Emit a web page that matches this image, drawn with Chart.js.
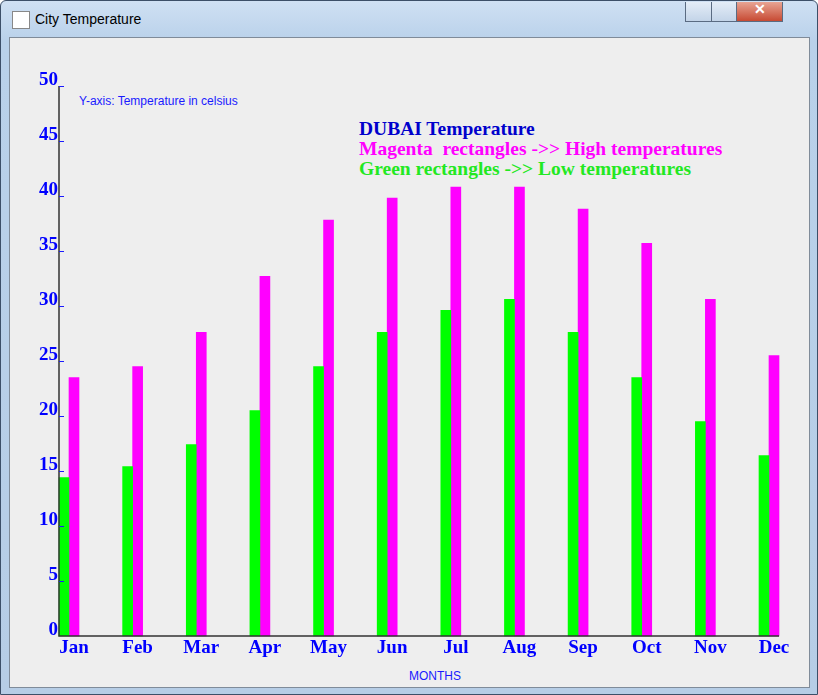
<!DOCTYPE html>
<html><head><meta charset="utf-8">
<script src="https://cdn.jsdelivr.net/npm/chart.js@4"></script>
<style>
html,body{margin:0;padding:0;width:818px;height:695px;overflow:hidden;background:#fff;font-family:"DejaVu Sans",sans-serif}
#win{position:absolute;left:0;top:0;width:816px;height:693px;border:1px solid #3c4f68;background:linear-gradient(#cfe0f3,#b9d1ea 40px,#b6cde6);border-radius:6px 6px 0 0}
#title{position:absolute;left:34px;top:10px;font:14px "Liberation Sans",sans-serif;color:#000}
#icon{position:absolute;left:11px;top:10px;width:16px;height:16px;background:#fff;border:1px solid #888}
#btns{position:absolute;left:684px;top:1px;height:20px;width:126px}
.b{position:absolute;top:0;height:19px;border:1px solid #5a6b82;border-top:none;background:linear-gradient(#e4edf7,#c3d4e8)}
#client{position:absolute;left:9px;top:37px;width:799px;height:649px;background:#eeeeee;border:1px solid #7f8b99}
.t{position:absolute;white-space:nowrap}
canvas{position:absolute;left:0;top:0}
</style></head><body>
<div id="win">
<div id="icon"></div><div id="title">City Temperature</div>
<div id="btns"><div class="b" style="left:0;width:26px"></div><div class="b" style="left:26px;width:25px"></div><div class="b" style="left:51px;width:45px;background:linear-gradient(#e8a493,#c74a33)"><span style="position:absolute;left:17px;top:-1px;color:#fff;font:bold 14px sans-serif">✕</span></div></div>
</div>
<div id="client"></div>
<div class="t" style="left:79px;top:94px;font:12px 'Liberation Sans',sans-serif;color:#1a1aff">Y-axis: Temperature in celsius</div>
<div class="t" style="left:409px;top:669px;font:12px 'Liberation Sans',sans-serif;color:#1a1aff">MONTHS</div>
<div class="t" style="left:359px;top:118px;font:bold 19.5px 'Liberation Serif',serif;color:#0000cc">DUBAI Temperature</div>
<div class="t" style="left:359px;top:138px;font:bold 19.5px 'Liberation Serif',serif;color:#ff00ff">Magenta&nbsp; rectangles -&gt;&gt; High temperatures</div>
<div class="t" style="left:359px;top:158px;font:bold 19.5px 'Liberation Serif',serif;color:#22e822">Green rectangles -&gt;&gt; Low temperatures</div>
<canvas id="c" width="818" height="695"></canvas>
<script>
const months=["Jan","Feb","Mar","Apr","May","Jun","Jul","Aug","Sep","Oct","Nov","Dec"];
const lowTemps=[14.4,15.4,17.4,20.5,24.5,27.6,29.6,30.6,27.6,23.5,19.5,16.4];
const highTemps=[23.5,24.5,27.6,32.7,37.8,39.8,40.8,40.8,38.8,35.7,30.6,25.5];
const yMin=0,yMax=50,yStep=5;
const axisPlugin={id:'axes',afterDatasetsDraw(ch){
 const c=ch.ctx,y=ch.scales.y,a=ch.chartArea;const x0=a.left-10;
 c.save();c.strokeStyle='#333';c.lineWidth=1.5;
 c.beginPath();c.moveTo(x0,y.getPixelForValue(yMax));c.lineTo(x0,y.getPixelForValue(0));c.lineTo(a.right+10,y.getPixelForValue(0));c.stroke();
 c.strokeStyle='#1a1aff';c.lineWidth=1;
 for(let v=yStep;v<=yMax;v+=yStep){const p=Math.round(y.getPixelForValue(v))+0.5;c.beginPath();c.moveTo(x0,p);c.lineTo(x0+5,p);c.stroke();}
 c.restore();}};
new Chart(document.getElementById('c'),{type:'bar',
data:{labels:months,datasets:[
 {data:lowTemps,backgroundColor:'#00ff00',barThickness:10,clip:false},
 {data:highTemps,backgroundColor:'#ff00ff',barThickness:10,clip:false}]},
options:{responsive:false,animation:false,
 layout:{padding:{left:0,right:49,top:86,bottom:0}},
 plugins:{legend:{display:false},tooltip:{enabled:false}},
 scales:{
  x:{offset:false,grid:{display:false,drawTicks:false},border:{display:false},
     ticks:{color:'#0000ff',padding:1,labelOffset:5,font:{family:'Liberation Serif',weight:'bold',size:19}},
     afterFit(s){s.height=59;}},
  y:{min:yMin,max:yMax,grid:{display:false,drawTicks:false},border:{display:false},
     ticks:{stepSize:yStep,color:'#0000ff',padding:11,labelOffset:-6,font:{family:'Liberation Serif',weight:'bold',size:19}},
     afterFit(s){s.width=69;}}
 }},plugins:[axisPlugin]});
</script></body></html>
